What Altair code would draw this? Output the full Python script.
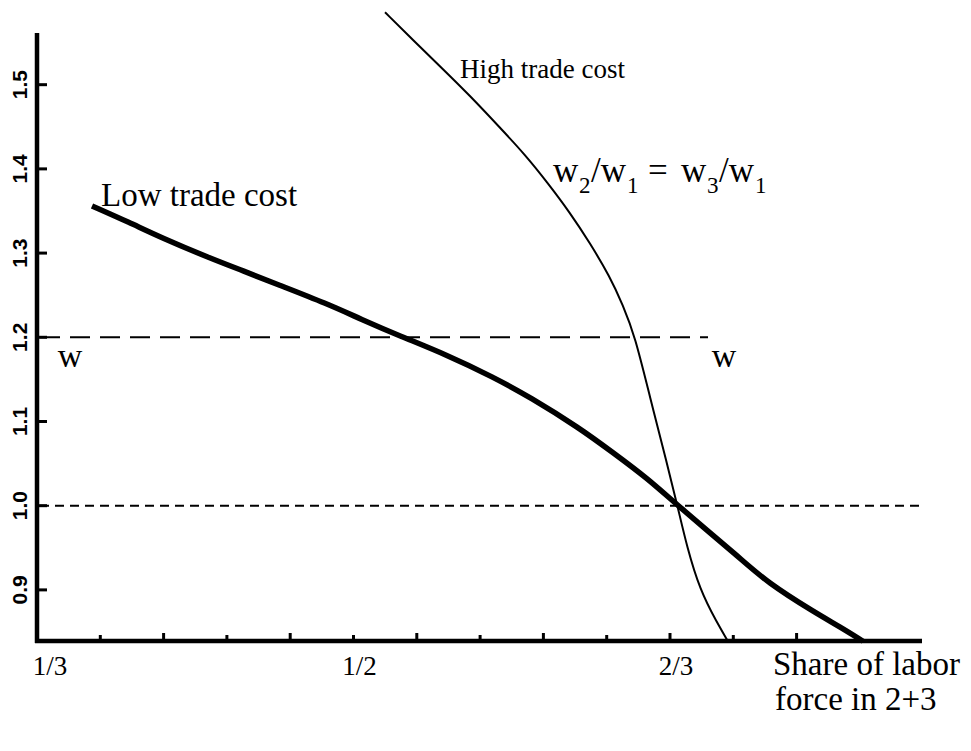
import altair as alt
import pandas as pd

# ---- data ----
low_x = [0.3623, 0.3823, 0.3981, 0.4244, 0.4418, 0.4597, 0.4860, 0.5044, 0.5245,
         0.5492, 0.5734, 0.5929, 0.6192, 0.6366, 0.6545, 0.6703, 0.7035, 0.7177,
         0.7430, 0.7562, 0.7683]
low_y = [1.356, 1.336, 1.319, 1.294, 1.279, 1.263, 1.240, 1.221, 1.2015,
         1.179, 1.153, 1.129, 1.092, 1.063, 1.033, 1.001, 0.938, 0.909,
         0.873, 0.856, 0.839]

high_x = [0.5166, 0.5313, 0.5455, 0.5613, 0.5771, 0.5903, 0.6024, 0.6140, 0.6245,
          0.6350, 0.6419, 0.6482, 0.6561, 0.6651, 0.6708, 0.6756, 0.6824, 0.6914,
          0.6972]
high_y = [1.586, 1.553, 1.522, 1.487, 1.449, 1.417, 1.383, 1.348, 1.312,
          1.272, 1.238, 1.2015, 1.129, 1.050, 0.998, 0.951, 0.900, 0.861,
          0.839]

y_ticks = [0.9, 1.0, 1.1, 1.2, 1.3, 1.4, 1.5]
y_tick_labels = ["0.9", "1.0", "1.1", "1.2", "1.3", "1.4", "1.5"]

x_minor_ticks = [1/3 + k/30 for k in (1, 3, 5, 7, 9, 11)]
x_major_ticks = [1/3 + k/30 for k in (2, 4, 6, 8, 10, 12)]

x_label_pos = [1/3, 1/2, 2/3]
x_label_text = ["1/3", "1/2", "2/3"]

w_level = [1.2]
parity = [1.0]

X_DOMAIN = [1/3, 1/3 + 885/1899]
Y_DOMAIN = [0.8393, 1.5887]
W, H = 885, 631

xs = alt.Scale(domain=X_DOMAIN, nice=False, zero=False)
ys = alt.Scale(domain=Y_DOMAIN, nice=False, zero=False)

SERIF = "Liberation Serif"

low_df = pd.DataFrame({"x": low_x, "y": low_y})
high_df = pd.DataFrame({"x": high_x, "y": high_y})
ytick_df = pd.DataFrame({"y": y_ticks, "t": y_tick_labels})
minor_df = pd.DataFrame({"x": x_minor_ticks})
major_df = pd.DataFrame({"x": x_major_ticks})
xlab_df = pd.DataFrame({"x": x_label_pos, "t": x_label_text})
w_df = pd.DataFrame({"y": w_level})
p_df = pd.DataFrame({"y": parity})
one = pd.DataFrame({"a": [0]})

Y = lambda: alt.Y("y:Q", scale=ys, axis=None)
X = lambda: alt.X("x:Q", scale=xs, axis=None)

low = alt.Chart(low_df).mark_line(color="black", strokeWidth=5.5, interpolate="basis", clip=False).encode(
    x=X(), y=Y())
high = alt.Chart(high_df).mark_line(color="black", strokeWidth=2, interpolate="basis", clip=False).encode(
    x=X(), y=Y())

wline = alt.Chart(w_df).mark_rule(color="black", strokeWidth=2, strokeDash=[20, 10]).encode(
    y=Y(), x=alt.value(3), x2=alt.value(671))
pline = alt.Chart(p_df).mark_rule(color="black", strokeWidth=2, strokeDash=[9, 6]).encode(
    y=Y(), x=alt.value(3), x2=alt.value(888))

yaxis = alt.Chart(one).mark_rule(color="black", strokeWidth=4.5).encode(
    x=alt.value(0), y=alt.value(23), y2=alt.value(H + 2))
xaxis = alt.Chart(one).mark_rule(color="black", strokeWidth=4.5).encode(
    y=alt.value(H), x=alt.value(-2), x2=alt.value(W))

yt = alt.Chart(ytick_df).mark_rule(color="black", strokeWidth=3).encode(
    y=Y(), x=alt.value(2), x2=alt.value(10))
ytl = alt.Chart(ytick_df).mark_text(font="Liberation Sans", fontSize=21, fontWeight="bold",
                                    angle=270, align="center", baseline="middle").encode(
    y=Y(), x=alt.value(-16), text="t:N")

xmin = alt.Chart(minor_df).mark_rule(color="black", strokeWidth=3).encode(
    x=X(), y=alt.value(H - 6), y2=alt.value(H))
xmaj = alt.Chart(major_df).mark_rule(color="black", strokeWidth=3).encode(
    x=X(), y=alt.value(H - 8), y2=alt.value(H))
xl_first = alt.Chart(xlab_df).transform_filter(alt.datum.t == "1/3").mark_text(
    font=SERIF, fontSize=27, align="center", baseline="alphabetic", dx=13).encode(
    x=X(), y=alt.value(H + 34), text="t:N")
xl_rest = alt.Chart(xlab_df).transform_filter(alt.datum.t != "1/3").mark_text(
    font=SERIF, fontSize=27, align="center", baseline="alphabetic", dx=6).encode(
    x=X(), y=alt.value(H + 34), text="t:N")

def label(text, x, y, size, align="left"):
    return alt.Chart(one).mark_text(font=SERIF, fontSize=size, align=align, baseline="alphabetic",
                                    text=text).encode(x=alt.value(x), y=alt.value(y))

MAIN, SUB = 35, 23
texts = [
    label("Share of labor", 736, H + 34, 33),
    label("force in 2+3", 738, H + 69, 33),
    label("High trade cost", 423, 68, 27),
    label("Low trade cost", 64, 196, 33),
    # w2/w1 = w3/w1
    label("w", 516, 172, MAIN),
    label("2", 542, 183, SUB),
    label("/w", 554, 172, MAIN),
    label("1", 590, 183, SUB),
    label("=", 611, 172, MAIN),
    label("w", 644, 172, MAIN),
    label("3", 670, 183, SUB),
    label("/w", 682, 172, MAIN),
    label("1", 718, 183, SUB),
    label("w", 33, 357, 34, "center"),
    label("w", 687, 357, 34, "center"),
]

chart = alt.layer(pline, wline, low, high, yaxis, xaxis, yt, ytl, xmin, xmaj, xl_first, xl_rest, *texts).properties(
    width=W, height=H,
    autosize=alt.AutoSizeParams(type="none"),
    padding={"left": 29, "top": 2, "right": 40, "bottom": 100},
).configure_view(stroke=None)

chart.save("out.html", embed_options={"renderer": "svg", "actions": False})
